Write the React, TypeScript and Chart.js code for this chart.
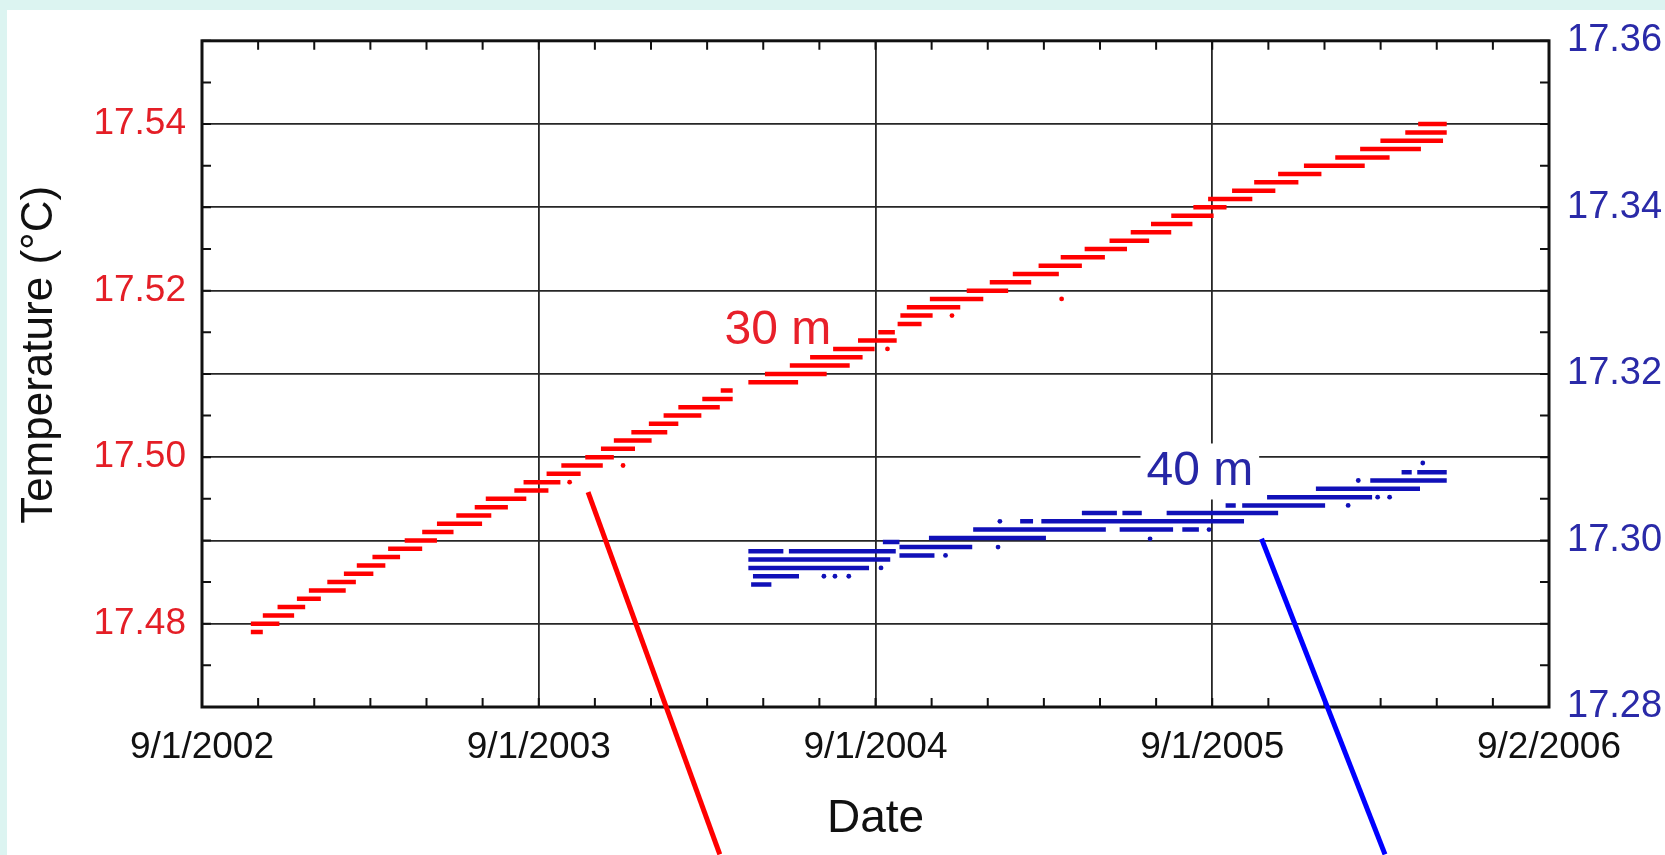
import React, { useEffect, useRef } from 'react';
import { Chart, registerables } from 'chart.js';

Chart.register(...registerables);

const FONT = "'Liberation Sans', Arial, Helvetica, sans-serif";
const PAGE_BG = '#dcf4f1';
const GRID = '#262626';
const FRAME = '#111111';
const RED_TEXT = '#e41e26';
const BLUE_TEXT = '#2a2aa8';
const RED_DATA = '#ff0000';
const BLUE_DATA = '#1010b8';

// x axis: days since 1 Sep 2002; the axis closes on 2 Sep 2006
const DAY_MIN = 0;
const DAY_MAX = 1462;
const xTickLabels = ['9/1/2002', '9/1/2003', '9/1/2004', '9/1/2005', '9/2/2006'];
const leftTickLabels = ['17.48', '17.50', '17.52', '17.54'];
const rightTickLabels = ['17.28', '17.30', '17.32', '17.34', '17.36'];
const yTitle = 'Temperature (°C)';
const xTitle = 'Date';

// 30 m sensor: runs of identical logged readings [first day, last day, °C]
const steps30m: [number, number, number][] = [
  [53, 66, 17.479],
  [53, 84, 17.48],
  [66, 100, 17.481],
  [82, 112, 17.482],
  [103, 129, 17.483],
  [116, 156, 17.484],
  [136, 167, 17.485],
  [154, 186, 17.486],
  [168, 199, 17.487],
  [185, 215, 17.488],
  [202, 239, 17.489],
  [220, 255, 17.49],
  [239, 273, 17.491],
  [255, 304, 17.492],
  [276, 314, 17.493],
  [296, 332, 17.494],
  [308, 352, 17.495],
  [339, 376, 17.496],
  [349, 389, 17.497],
  [374, 411, 17.498],
  [390, 435, 17.499],
  [416, 447, 17.5],
  [433, 470, 17.501],
  [447, 488, 17.502],
  [466, 505, 17.503],
  [485, 517, 17.504],
  [501, 542, 17.505],
  [517, 562, 17.506],
  [543, 576, 17.507],
  [563, 576, 17.508],
  [593, 647, 17.509],
  [611, 678, 17.51],
  [638, 703, 17.511],
  [660, 717, 17.512],
  [685, 730, 17.513],
  [712, 754, 17.514],
  [734, 752, 17.515],
  [755, 781, 17.516],
  [758, 793, 17.517],
  [765, 823, 17.518],
  [790, 848, 17.519],
  [830, 875, 17.52],
  [855, 900, 17.521],
  [880, 930, 17.522],
  [908, 955, 17.523],
  [932, 980, 17.524],
  [958, 1004, 17.525],
  [985, 1028, 17.526],
  [1008, 1052, 17.527],
  [1030, 1075, 17.528],
  [1052, 1098, 17.529],
  [1076, 1112, 17.53],
  [1092, 1140, 17.531],
  [1118, 1165, 17.532],
  [1142, 1190, 17.533],
  [1168, 1215, 17.534],
  [1196, 1262, 17.535],
  [1230, 1289, 17.536],
  [1257, 1323, 17.537],
  [1279, 1347, 17.538],
  [1306, 1351, 17.539],
  [1320, 1351, 17.54],
];
// isolated 30 m readings [day, °C]
const strays30m: [number, number][] = [
  [399, 17.497],
  [457, 17.499],
  [744, 17.513],
  [814, 17.517],
  [933, 17.519],
];

// 40 m sensor (right axis): runs [first day, last day, °C]
const steps40m: [number, number, number][] = [
  [596, 618, 17.2947],
  [598, 648, 17.2957],
  [593, 724, 17.2967],
  [593, 747, 17.2977],
  [593, 631, 17.2987],
  [637, 753, 17.2987],
  [739, 757, 17.2998],
  [757, 795, 17.2982],
  [757, 836, 17.2992],
  [789, 916, 17.3003],
  [837, 981, 17.3013],
  [996, 1054, 17.3013],
  [1064, 1082, 17.3013],
  [888, 902, 17.3023],
  [911, 1131, 17.3023],
  [955, 993, 17.3033],
  [999, 1020, 17.3033],
  [1047, 1168, 17.3033],
  [1111, 1122, 17.3042],
  [1129, 1219, 17.3042],
  [1156, 1270, 17.3052],
  [1209, 1322, 17.3062],
  [1268, 1351, 17.3072],
  [1302, 1313, 17.3082],
  [1319, 1351, 17.3082],
];
// isolated 40 m readings [day, °C]
const strays40m: [number, number][] = [
  [675, 17.2957],
  [687, 17.2957],
  [702, 17.2957],
  [737, 17.2967],
  [807, 17.2982],
  [864, 17.2992],
  [866, 17.3023],
  [1029, 17.3002],
  [1093, 17.3013],
  [1244, 17.3042],
  [1276, 17.3052],
  [1289, 17.3052],
  [1255, 17.3072],
  [1325, 17.3093],
];

// depth captions, anchored in data units (baseline centre)
const callouts = [
  { text: '30 m', day: 625, temp: 17.5136, axis: 'y', color: '#e8202a', boxed: false },
  { text: '40 m', day: 1083, temp: 17.3066, axis: 'y2', color: '#2626a6', boxed: true },
];

// leader lines running from each series down past the axis
const leaders = [
  { from: [419, 17.4958], to: [562, 17.4523], axis: 'y', color: '#ff0000' },
  { from: [1150, 17.3002], to: [1284, 17.2623], axis: 'y2', color: '#0000ff' },
];

const TICK_LEN = 9;
const CALLOUT_FONT = `48px ${FONT}`;

function runsToPoints(runs: [number, number, number][]) {
  const pts: { x: number; y: number | null }[] = [];
  runs.forEach(([a, b, v]) => {
    pts.push({ x: a, y: v }, { x: b, y: v }, { x: b, y: null });
  });
  return pts;
}

function labelFor(v: number, list: string[]) {
  return list.find((l) => Math.abs(Number(l) - v) < 1e-6) ?? '';
}

function isMajorGrid(v: number | undefined) {
  if (v === undefined) return false;
  const k = Math.round(v * 1000);
  return k % 10 === 0;
}

const decorPlugin = {
  id: 'decor',
  beforeDraw(chart: any) {
    const { ctx, width, height } = chart;
    ctx.save();
    ctx.fillStyle = PAGE_BG;
    ctx.fillRect(0, 0, width, height);
    ctx.fillStyle = '#ffffff';
    ctx.fillRect(7, 10, width - 7, height - 10);
    ctx.restore();
  },
  beforeDatasetsDraw(chart: any) {
    const { ctx, scales, chartArea: a } = chart;
    ctx.save();
    // vertical axis title, sitting a little above the axis centre
    ctx.font = `44px ${FONT}`;
    ctx.fillStyle = '#111111';
    ctx.textAlign = 'center';
    ctx.textBaseline = 'middle';
    ctx.translate(40, (a.top + a.bottom) / 2 - 19);
    ctx.rotate(-Math.PI / 2);
    ctx.fillText(yTitle, 0, 0);
    ctx.setTransform(1, 0, 0, 1, 0, 0);

    ctx.font = CALLOUT_FONT;
    ctx.textAlign = 'center';
    ctx.textBaseline = 'alphabetic';
    callouts
      .filter((c) => c.boxed)
      .forEach((c) => {
        const x = scales.x.getPixelForValue(c.day);
        const y = scales[c.axis].getPixelForValue(c.temp);
        const w = ctx.measureText(c.text).width;
        ctx.fillStyle = '#ffffff';
        ctx.fillRect(x - w / 2 - 6, y - 42, w + 12, 56);
        ctx.fillStyle = c.color;
        ctx.fillText(c.text, x, y);
      });
    ctx.restore();
  },
  afterDatasetsDraw(chart: any) {
    const { ctx, chartArea: a, scales } = chart;
    ctx.save();
    ctx.font = CALLOUT_FONT;
    ctx.textAlign = 'center';
    ctx.textBaseline = 'alphabetic';
    callouts
      .filter((c) => !c.boxed)
      .forEach((c) => {
        ctx.fillStyle = c.color;
        ctx.fillText(c.text, scales.x.getPixelForValue(c.day), scales[c.axis].getPixelForValue(c.temp));
      });

    // inward tick marks on all four sides
    ctx.strokeStyle = FRAME;
    ctx.lineWidth = 2;
    ctx.beginPath();
    scales.x.ticks.forEach((t: any) => {
      const px = scales.x.getPixelForValue(t.value);
      ctx.moveTo(px, a.bottom);
      ctx.lineTo(px, a.bottom - TICK_LEN);
      ctx.moveTo(px, a.top);
      ctx.lineTo(px, a.top + TICK_LEN);
    });
    scales.y.ticks.forEach((t: any) => {
      const py = scales.y.getPixelForValue(t.value);
      ctx.moveTo(a.left, py);
      ctx.lineTo(a.left + TICK_LEN, py);
    });
    scales.y2.ticks.forEach((t: any) => {
      const py = scales.y2.getPixelForValue(t.value);
      ctx.moveTo(a.right, py);
      ctx.lineTo(a.right - TICK_LEN, py);
    });
    ctx.stroke();

    ctx.lineWidth = 3;
    ctx.strokeRect(a.left, a.top, a.right - a.left, a.bottom - a.top);
    ctx.restore();
  },
  afterDraw(chart: any) {
    const { ctx, scales } = chart;
    ctx.save();
    ctx.lineWidth = 5;
    ctx.lineCap = 'butt';
    leaders.forEach((l) => {
      ctx.strokeStyle = l.color;
      ctx.beginPath();
      ctx.moveTo(scales.x.getPixelForValue(l.from[0]), scales[l.axis].getPixelForValue(l.from[1]));
      ctx.lineTo(scales.x.getPixelForValue(l.to[0]), scales[l.axis].getPixelForValue(l.to[1]));
      ctx.stroke();
    });
    ctx.restore();
  },
};

export default function App() {
  const canvasRef = useRef<HTMLCanvasElement | null>(null);

  useEffect(() => {
    if (!canvasRef.current) return;
    const tickFont = { family: FONT, size: 37 };
    const titleFont = { family: FONT, size: 46 };

    const runStyle = {
      borderWidth: 4.5,
      borderCapStyle: 'butt',
      pointRadius: 0,
      spanGaps: false,
      tension: 0,
    };
    const strayStyle = {
      showLine: false,
      pointRadius: 2.4,
      pointBorderWidth: 0,
    };

    const chart = new Chart(canvasRef.current, {
      type: 'line',
      data: {
        datasets: [
          { label: '30 m', data: runsToPoints(steps30m), yAxisID: 'y', borderColor: RED_DATA, ...runStyle },
          {
            label: '30 m single',
            data: strays30m.map(([x, y]) => ({ x, y })),
            yAxisID: 'y',
            pointBackgroundColor: RED_DATA,
            ...strayStyle,
          },
          { label: '40 m', data: runsToPoints(steps40m), yAxisID: 'y2', borderColor: BLUE_DATA, ...runStyle },
          {
            label: '40 m single',
            data: strays40m.map(([x, y]) => ({ x, y })),
            yAxisID: 'y2',
            pointBackgroundColor: BLUE_DATA,
            ...strayStyle,
          },
        ],
      } as any,
      options: {
        animation: false,
        responsive: true,
        maintainAspectRatio: false,
        devicePixelRatio: 1,
        events: [],
        layout: { padding: { top: 34, left: 0, right: 0, bottom: 0 } },
        plugins: { legend: { display: false }, tooltip: { enabled: false } },
        scales: {
          x: {
            type: 'linear',
            position: 'bottom',
            min: DAY_MIN,
            max: DAY_MAX,
            afterFit: (s: any) => {
              s.height = 148;
            },
            border: { display: false },
            grid: {
              drawTicks: false,
              lineWidth: 1.8,
              color: (c: any) => (c.index % 6 === 0 ? GRID : 'rgba(0,0,0,0)'),
            },
            ticks: {
              stepSize: (DAY_MAX - DAY_MIN) / 24,
              maxTicksLimit: 100,
              autoSkip: false,
              maxRotation: 0,
              minRotation: 0,
              padding: 19,
              color: '#111111',
              font: tickFont,
              callback: (_v: any, i: number) => (i % 6 === 0 ? xTickLabels[i / 6] ?? '' : ''),
            },
            title: {
              display: true,
              text: xTitle,
              color: '#111111',
              font: titleFont,
              padding: { top: 0, bottom: 8 },
            },
          },
          y: {
            type: 'linear',
            position: 'left',
            min: 17.47,
            max: 17.55,
            afterFit: (s: any) => {
              s.width = 202;
            },
            border: { display: false },
            grid: {
              drawTicks: false,
              lineWidth: 1.8,
              color: (c: any) => (isMajorGrid(c.tick?.value) ? GRID : 'rgba(0,0,0,0)'),
            },
            ticks: {
              stepSize: 0.005,
              maxTicksLimit: 100,
              autoSkip: false,
              padding: 16,
              color: RED_TEXT,
              font: tickFont,
              callback: (v: any) => labelFor(Number(v), leftTickLabels),
            },
          },
          y2: {
            type: 'linear',
            position: 'right',
            min: 17.28,
            max: 17.36,
            afterFit: (s: any) => {
              s.width = 116;
            },
            border: { display: false },
            grid: { drawOnChartArea: false, drawTicks: false },
            ticks: {
              stepSize: 0.005,
              maxTicksLimit: 100,
              autoSkip: false,
              padding: 18,
              color: BLUE_TEXT,
              font: { family: FONT, size: 38 },
              callback: (v: any) => labelFor(Number(v), rightTickLabels),
            },
          },
        },
      } as any,
      plugins: [decorPlugin],
    });

    return () => chart.destroy();
  }, []);

  return (
    <div style={{ position: 'fixed', left: 0, top: 0, width: 1665, height: 855 }}>
      <canvas ref={canvasRef} />
    </div>
  );
}
